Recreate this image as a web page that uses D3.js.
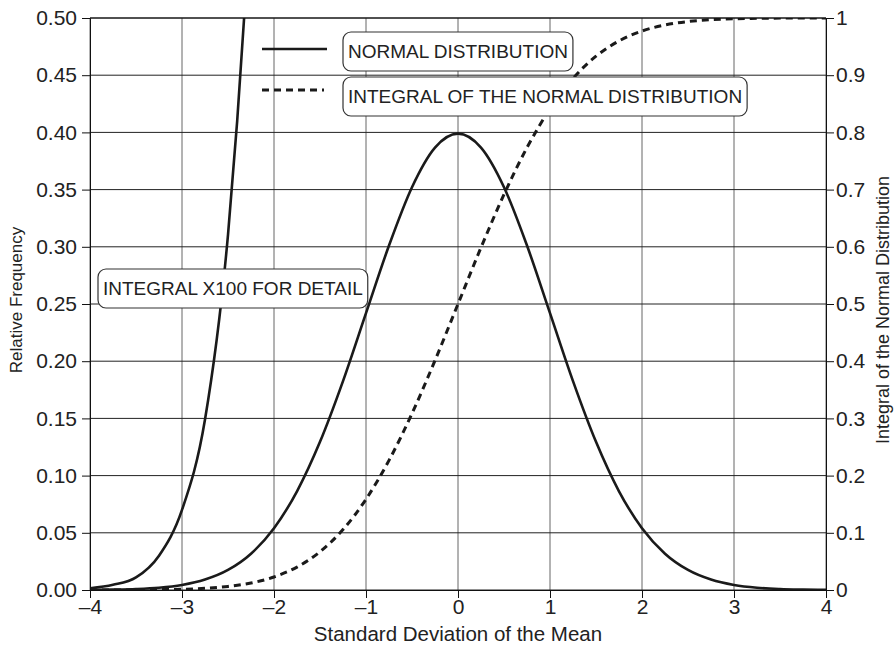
<!DOCTYPE html>
<html>
<head>
<meta charset="utf-8">
<script src="https://cdn.jsdelivr.net/npm/d3@7"></script>
<style>
  body { margin: 0; background: #fff; }
  svg { font-family: "Liberation Sans", Arial, sans-serif; }
</style>
</head>
<body>
<div id="chart"></div>
<script>
// Data
const xValues = [-4, -3.75, -3.5, -3.25, -3, -2.75, -2.5, -2.25, -2, -1.75, -1.5, -1.25, -1, -0.75, -0.5, -0.25,
  0, 0.25, 0.5, 0.75, 1, 1.25, 1.5, 1.75, 2, 2.25, 2.5, 2.75, 3, 3.25, 3.5, 3.75, 4];

const normalValues = [0.0001, 0.0004, 0.0009, 0.0020, 0.0044, 0.0091, 0.0175, 0.0317, 0.0540, 0.0863, 0.1295, 0.1826,
  0.2420, 0.3011, 0.3521, 0.3867, 0.3989, 0.3867, 0.3521, 0.3011, 0.2420, 0.1826, 0.1295, 0.0863, 0.0540, 0.0317,
  0.0175, 0.0091, 0.0044, 0.0020, 0.0009, 0.0004, 0.0001];

const integralValues = [0.0000, 0.0001, 0.0002, 0.0006, 0.0013, 0.0030, 0.0062, 0.0122, 0.0228, 0.0401, 0.0668, 0.1056,
  0.1587, 0.2266, 0.3085, 0.4013, 0.5000, 0.5987, 0.6915, 0.7734, 0.8413, 0.8944, 0.9332, 0.9599, 0.9772, 0.9878,
  0.9938, 0.9970, 0.9987, 0.9994, 0.9998, 0.9999, 1.0000];

// integral x100, drawn on the right axis and clipped at the top
const detailX = [-4, -3.75, -3.5, -3.25, -3, -2.75, -2.5, -2.4, -2.3];
const detailValues = [0.003, 0.009, 0.022, 0.060, 0.14, 0.298, 0.621, 0.820, 1.06];

const xTicks = [-4, -3, -2, -1, 0, 1, 2, 3, 4];
const leftTicks = [0, 0.05, 0.10, 0.15, 0.20, 0.25, 0.30, 0.35, 0.40, 0.45, 0.50];
const rightTicks = [0, 0.1, 0.2, 0.3, 0.4, 0.5, 0.6, 0.7, 0.8, 0.9, 1];

const labels = [
  { text: "NORMAL DISTRIBUTION", x: 343, y: 32 },
  { text: "INTEGRAL OF THE NORMAL DISTRIBUTION", x: 343, y: 77 },
  { text: "INTEGRAL X100 FOR DETAIL", x: 98, y: 269 }
];

// Layout
const margin = { top: 18, right: 69, bottom: 55, left: 90 };
const W = 895, H = 645;
const width = W - margin.left - margin.right;
const height = H - margin.top - margin.bottom;

const svg = d3.select("#chart").append("svg")
  .attr("width", W)
  .attr("height", H);

const g = svg.append("g")
  .attr("transform", `translate(${margin.left},${margin.top})`);

// Scales
const x = d3.scaleLinear().domain([-4, 4]).range([0, width]);
const yLeft = d3.scaleLinear().domain([0, 0.5]).range([height, 0]);
const yRight = d3.scaleLinear().domain([0, 1]).range([height, 0]);

// Grid lines
g.append("g")
  .attr("class", "grid-x")
  .selectAll("line")
  .data(xTicks)
  .enter().append("line")
  .attr("x1", d => x(d)).attr("x2", d => x(d))
  .attr("y1", 0).attr("y2", height)
  .style("stroke", "#666")
  .style("stroke-width", 1);

g.append("g")
  .attr("class", "grid-y")
  .selectAll("line")
  .data(leftTicks)
  .enter().append("line")
  .attr("x1", 0).attr("x2", width)
  .attr("y1", d => yLeft(d)).attr("y2", d => yLeft(d))
  .style("stroke", "#222")
  .style("stroke-width", 1);

// Clip for the curves
svg.append("defs").append("clipPath")
  .attr("id", "plot-clip")
  .append("rect")
  .attr("width", width)
  .attr("height", height);

const plot = g.append("g").attr("clip-path", "url(#plot-clip)");

const normalLine = d3.line()
  .x((d, i) => x(xValues[i]))
  .y(d => yLeft(d))
  .curve(d3.curveMonotoneX);

const integralLine = d3.line()
  .x((d, i) => x(xValues[i]))
  .y(d => yRight(d))
  .curve(d3.curveMonotoneX);

const detailLine = d3.line()
  .x((d, i) => x(detailX[i]))
  .y(d => yRight(d))
  .curve(d3.curveMonotoneX);

plot.append("path")
  .datum(integralValues)
  .attr("d", integralLine)
  .attr("fill", "none")
  .attr("stroke", "#1a1a1a")
  .attr("stroke-width", 3)
  .attr("stroke-dasharray", "7,5");

plot.append("path")
  .datum(normalValues)
  .attr("d", normalLine)
  .attr("fill", "none")
  .attr("stroke", "#1a1a1a")
  .attr("stroke-width", 2.6);

plot.append("path")
  .datum(detailValues)
  .attr("d", detailLine)
  .attr("fill", "none")
  .attr("stroke", "#1a1a1a")
  .attr("stroke-width", 2.6);

// Top border
g.append("line")
  .attr("x1", 0).attr("x2", width)
  .attr("y1", 0).attr("y2", 0)
  .style("stroke", "#111");

// Axes
const tickFont = "21px";

const xAxis = g.append("g")
  .attr("class", "x-axis")
  .attr("transform", `translate(0,${height})`)
  .call(d3.axisBottom(x)
    .tickValues(xTicks)
    .tickSize(8)
    .tickPadding(1)
    .tickFormat(d => d < 0 ? "\u2013" + Math.abs(d) : String(d)));

const leftAxis = g.append("g")
  .attr("class", "y-axis-left")
  .call(d3.axisLeft(yLeft)
    .tickValues(leftTicks)
    .tickSize(8)
    .tickPadding(5)
    .tickFormat(d3.format(".2f")));

const rightAxis = g.append("g")
  .attr("class", "y-axis-right")
  .attr("transform", `translate(${width},0)`)
  .call(d3.axisRight(yRight)
    .tickValues(rightTicks)
    .tickSize(8)
    .tickPadding(2)
    .tickFormat(d => String(d)));

[xAxis, leftAxis, rightAxis].forEach(a => {
  a.selectAll("text")
    .style("font-size", tickFont)
    .style("font-family", "'Liberation Sans', Arial, sans-serif")
    .style("fill", "#222");
  a.selectAll("line").style("stroke", "#111");
  a.select(".domain").style("stroke", "#111");
});

// Axis titles
svg.append("text")
  .attr("transform", `translate(22,${margin.top + 282}) rotate(-90)`)
  .attr("text-anchor", "middle")
  .style("font-size", "17px")
  .style("fill", "#222")
  .text("Relative Frequency");

svg.append("text")
  .attr("transform", `translate(889,${margin.top + 292}) rotate(-90)`)
  .attr("text-anchor", "middle")
  .style("font-size", "18px")
  .style("fill", "#222")
  .text("Integral of the Normal Distribution");

svg.append("text")
  .attr("x", margin.left + width / 2)
  .attr("y", 641)
  .attr("text-anchor", "middle")
  .style("font-size", "20.5px")
  .style("fill", "#222")
  .text("Standard Deviation of the Mean");

// Legend line samples
svg.append("line")
  .attr("x1", 262).attr("x2", 327)
  .attr("y1", 49).attr("y2", 49)
  .attr("stroke", "#1a1a1a")
  .attr("stroke-width", 2.6);

svg.append("line")
  .attr("x1", 262).attr("x2", 324)
  .attr("y1", 90).attr("y2", 90)
  .attr("stroke", "#1a1a1a")
  .attr("stroke-width", 3)
  .attr("stroke-dasharray", "7,5");

// Label boxes
labels.forEach(l => {
  const box = svg.append("g").attr("transform", `translate(${l.x},${l.y})`);
  const rect = box.append("rect")
    .attr("rx", 8).attr("ry", 8)
    .attr("fill", "#fff")
    .attr("stroke", "#333")
    .attr("stroke-width", 1.2);
  const t = box.append("text")
    .attr("x", 5)
    .attr("y", 25.5)
    .style("font-size", "19px")
    .style("fill", "#222")
    .text(l.text);
  const w = t.node().getComputedTextLength();
  rect.attr("width", w + 10).attr("height", 39);
});
</script>
</body>
</html>
